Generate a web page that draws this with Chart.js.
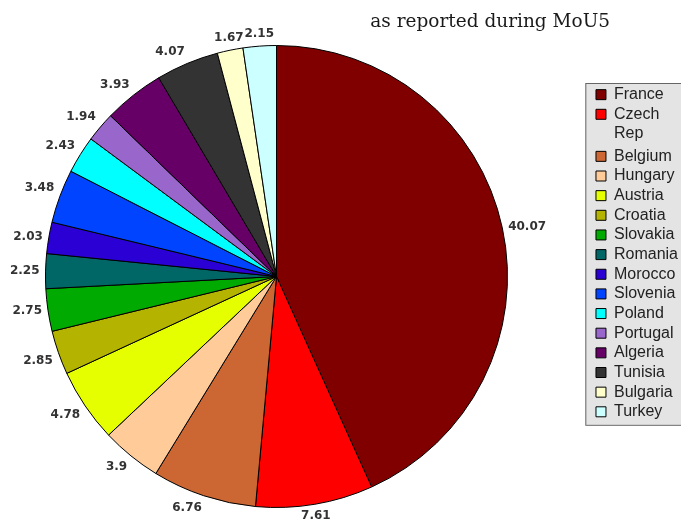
<!DOCTYPE html>
<html>
<head>
<meta charset="utf-8">
<script src="https://cdn.jsdelivr.net/npm/chart.js@4/dist/chart.umd.min.js"></script>
<style>
  html, body { margin: 0; padding: 0; background: #fff; }
  #wrap { width: 681px; height: 525px; position: relative; }
</style>
</head>
<body>
<div id="wrap"><canvas id="pie"></canvas></div>
<script>
var countries = ["France", ["Czech", "Rep"], "Belgium", "Hungary", "Austria", "Croatia", "Slovakia", "Romania",
  "Morocco", "Slovenia", "Poland", "Portugal", "Algeria", "Tunisia", "Bulgaria", "Turkey"];
var shares = [40.07, 7.61, 6.76, 3.9, 4.78, 2.85, 2.75, 2.25, 2.03, 3.48, 2.43, 1.94, 3.93, 4.07, 1.67, 2.15];
var colours = ["#800000", "#ff0000", "#cc6633", "#ffcc99", "#e6ff00", "#b3b300", "#00aa00", "#006666",
  "#2a00d5", "#0044ff", "#00ffff", "#9966cc", "#660066", "#333333", "#ffffcc", "#ccffff"];
var chartTitle = "as reported during MoU5";

// keep the pie in a fixed square on the left, legend stays where layout put it
var pieBox = {
  id: 'pieBox',
  afterLayout: function(chart, args, opts) {
    var a = chart.chartArea;
    a.left = opts.left; a.top = opts.top;
    a.right = opts.left + opts.size; a.bottom = opts.top + opts.size;
    a.width = opts.size; a.height = opts.size;
  }
};

var legendBack = {
  id: 'legendBack',
  beforeDraw: function(chart) {
    var lg = chart.legend;
    var boxes = lg.legendHitBoxes;
    var last = boxes[boxes.length - 1];
    var bottom = last.top + last.height + 5;
    var ctx = chart.ctx;
    ctx.save();
    ctx.fillStyle = '#e4e4e4';
    ctx.strokeStyle = '#666';
    ctx.lineWidth = 1;
    ctx.fillRect(lg.left - 7, lg.top, lg.width + 20, bottom - lg.top);
    ctx.strokeRect(lg.left - 7 + 0.5, lg.top + 0.5, lg.width + 20, bottom - lg.top);
    ctx.restore();
  }
};

var sliceLabels = {
  id: 'sliceLabels',
  afterDatasetsDraw: function(chart) {
    var ctx = chart.ctx;
    var meta = chart.getDatasetMeta(0);
    ctx.save();
    ctx.font = 'bold 12px "DejaVu Sans"';
    ctx.fillStyle = '#333';
    meta.data.forEach(function(arc, i) {
      var p = arc.getProps(['x', 'y', 'startAngle', 'endAngle', 'outerRadius'], true);
      var mid = (p.startAngle + p.endAngle) / 2;
      var cx = Math.cos(mid), cy = Math.sin(mid);
      var r = p.outerRadius + 6;
      ctx.textAlign = cx > 0.3 ? 'left' : (cx < -0.3 ? 'right' : 'center');
      ctx.textBaseline = cy > 0.3 ? 'top' : (cy < -0.3 ? 'bottom' : 'middle');
      ctx.fillText(String(shares[i]), p.x + r * cx, p.y + r * cy);
    });
    ctx.restore();
  }
};

var titleText = {
  id: 'titleText',
  afterDraw: function(chart) {
    var ctx = chart.ctx;
    ctx.save();
    ctx.font = '18.5px "DejaVu Serif"';
    ctx.fillStyle = '#1a1a1a';
    ctx.textAlign = 'right';
    ctx.textBaseline = 'alphabetic';
    ctx.fillText(chartTitle, 610, 27);
    ctx.restore();
  }
};

new Chart(document.getElementById('pie'), {
  type: 'pie',
  data: {
    labels: countries,
    datasets: [{
      data: shares,
      backgroundColor: colours,
      borderColor: '#000',
      borderWidth: 1,
      hoverBorderWidth: 1,
      hoverOffset: 0
    }]
  },
  options: {
    responsive: true,
    maintainAspectRatio: false,
    animation: false,
    layout: { padding: { top: 83, bottom: 40, left: 45, right: -7 } },
    plugins: {
      pieBox: { left: 45, top: 45, size: 463 },
      tooltip: { enabled: false },
      legend: {
        position: 'right',
        align: 'start',
        labels: {
          boxWidth: 10,
          boxHeight: 10,
          padding: 3.65,
          color: '#222',
          font: { family: '"Liberation Sans", Arial, sans-serif', size: 16 }
        }
      }
    }
  },
  plugins: [pieBox, legendBack, sliceLabels, titleText]
});
</script>
</body>
</html>
